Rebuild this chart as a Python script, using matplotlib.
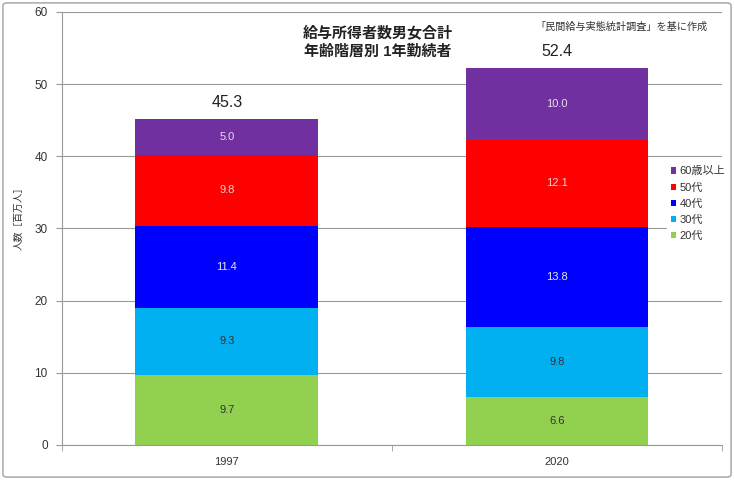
#!/usr/bin/env python3
"""
給与所得者数 男女合計 年齢階層別 1年勤続者 (1997 / 2020) の積み上げ棒グラフ
out.png に保存
"""

import matplotlib
matplotlib.use("Agg")
import matplotlib.pyplot as plt
from matplotlib.patches import FancyBboxPatch
import numpy as np

plt.rcParams["font.family"] = ["Liberation Sans", "Noto Sans CJK JP", "DejaVu Sans"]

# データ (百万人)
years = ["1997", "2020"]
groups = ["20代", "30代", "40代", "50代", "60歳以上"]
age20 = [9.7, 6.6]
age30 = [9.3, 9.8]
age40 = [11.4, 13.8]
age50 = [9.8, 12.1]
age60 = [5.0, 10.0]
totals = [45.3, 52.4]

colors = ["#92D050", "#00B0F0", "#0000FF", "#FF0000", "#7030A0"]
label_colors = ["#333333", "#333333", "#e8e8e8", "#f0d0d0", "#e8dcef"]


def main():
    fig = plt.figure(figsize=(7.34, 4.8), dpi=100)
    ax = fig.add_axes([0.084, 0.073, 0.9, 0.902])

    # 外枠
    fig.patches.append(FancyBboxPatch((0.004, 0.006), 0.992, 0.988,
                                      boxstyle="round,pad=0,rounding_size=0.006",
                                      transform=fig.transFigure, fill=False,
                                      edgecolor="#b0b0b0", linewidth=1.2))

    x = np.arange(len(years))
    series = [age20, age30, age40, age50, age60]
    bottom = np.zeros(len(years))
    for vals, name, c, lc in zip(series, groups, colors, label_colors):
        ax.bar(x, vals, width=0.553, bottom=bottom, color=c, label=name, zorder=2)
        for xi, b, v in zip(x, bottom, vals):
            ax.text(xi, b + v / 2, f"{v:.1f}", ha="center", va="center",
                    fontsize=8, color=lc, zorder=3)
        bottom += np.array(vals)

    for xi, top, t in zip(x, bottom, totals):
        ax.text(xi, top + 1.2, f"{t:.1f}", ha="center", va="bottom",
                fontsize=11.5, color="#222222")

    ax.set_xlim(-0.5, 1.5)
    ax.set_ylim(0, 60)
    ax.set_yticks(range(0, 61, 10))
    ax.set_xticks(x)
    ax.set_xticklabels(years)
    ax.set_xticks([-0.5, 0.5, 1.5], minor=True)
    ax.tick_params(axis="x", which="major", length=0, pad=9, labelsize=8, labelcolor="#333333")
    ax.tick_params(axis="x", which="minor", length=4, color="#999999")
    ax.tick_params(axis="y", length=4, color="#999999", labelsize=8.5,
                   labelcolor="#333333", pad=6)
    ax.grid(axis="y", color="#999999", linewidth=0.8, zorder=0)
    ax.set_axisbelow(True)
    for s in ["top", "right"]:
        ax.spines[s].set_visible(False)
    for s in ["left", "bottom"]:
        ax.spines[s].set_color("#999999")

    ax.set_ylabel("人数［百万人］", fontsize=7, color="#333333")
    ax.yaxis.set_label_coords(-0.058, 0.53)

    handles, labels = ax.get_legend_handles_labels()
    leg = ax.legend(handles[::-1], labels[::-1], loc="center left",
                    bbox_to_anchor=(0.917, 0.557), frameon=True, fontsize=8,
                    handlelength=0.5, handleheight=0.5, handletextpad=0.3,
                    labelspacing=0.55, borderpad=0.3, borderaxespad=0)
    leg.get_frame().set_edgecolor("white")
    leg.get_frame().set_facecolor("white")
    leg.get_frame().set_alpha(1)
    for t in leg.get_texts():
        t.set_color("#333333")

    fig.text(0.515, 0.931, "給与所得者数男女合計", ha="center", va="center",
             fontsize=10.8, fontweight="bold", color="#222222")
    fig.text(0.515, 0.891, "年齢階層別 1年勤続者", ha="center", va="center",
             fontsize=10.8, fontweight="bold", color="#222222")
    fig.text(0.964, 0.945, "「民間給与実態統計調査」を基に作成", ha="right", va="center",
             fontsize=7.3, color="#333333")

    fig.savefig("out.png", dpi=100)
    plt.close(fig)


if __name__ == "__main__":
    main()
